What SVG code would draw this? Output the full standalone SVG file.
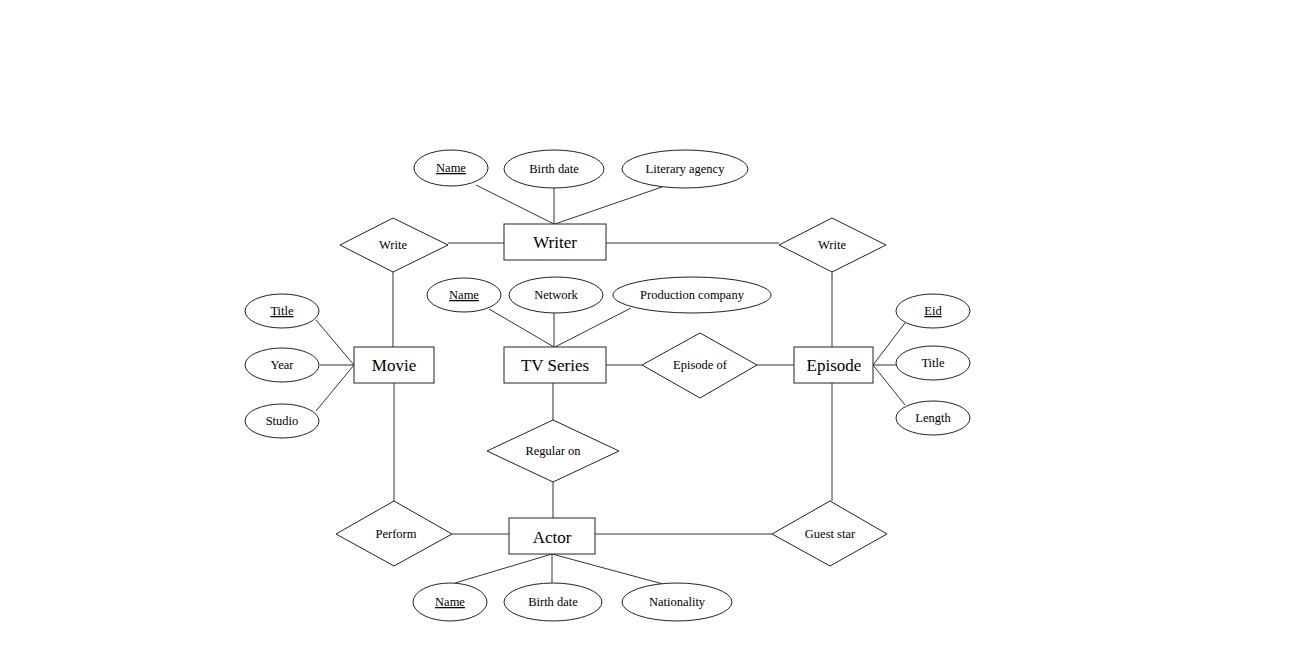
<svg xmlns="http://www.w3.org/2000/svg" width="1300" height="650" viewBox="0 0 1300 650">
<style>
.s{fill:#fff;stroke:#222;stroke-width:1}
.c line{stroke:#333;stroke-width:1}
.e{font-family:"Liberation Serif",serif;font-size:17px;text-anchor:middle;fill:#000}
.a{font-family:"Liberation Serif",serif;font-size:12.5px;text-anchor:middle;fill:#000}
.u{text-decoration:underline}
</style>
<rect width="1300" height="650" fill="#fff"/>
<g class="c">
<line x1="476" y1="185" x2="554" y2="224"/>
<line x1="554" y1="188" x2="554" y2="224"/>
<line x1="662" y1="187" x2="555" y2="224"/>
<line x1="448" y1="243" x2="504" y2="243"/>
<line x1="606" y1="243" x2="779" y2="243"/>
<line x1="393" y1="272" x2="393" y2="347"/>
<line x1="832" y1="272" x2="832" y2="347"/>
<line x1="316" y1="320" x2="354" y2="365"/>
<line x1="320" y1="365" x2="354" y2="365"/>
<line x1="316" y1="411" x2="354" y2="365"/>
<line x1="489" y1="309" x2="554" y2="347"/>
<line x1="554" y1="313" x2="554" y2="347"/>
<line x1="631" y1="308" x2="555" y2="347"/>
<line x1="606" y1="365" x2="642" y2="365"/>
<line x1="757" y1="365" x2="794" y2="365"/>
<line x1="873" y1="365" x2="905" y2="323"/>
<line x1="873" y1="365" x2="897" y2="365"/>
<line x1="873" y1="365" x2="905" y2="405"/>
<line x1="553" y1="383" x2="553" y2="420"/>
<line x1="553" y1="482" x2="553" y2="518"/>
<line x1="394" y1="383" x2="394" y2="501"/>
<line x1="832" y1="383" x2="832" y2="501"/>
<line x1="452" y1="534" x2="509" y2="534"/>
<line x1="595" y1="534" x2="772" y2="534"/>
<line x1="552" y1="554" x2="455" y2="583"/>
<line x1="552" y1="554" x2="552" y2="583"/>
<line x1="552" y1="554" x2="663" y2="584"/>
</g>
<g id="writer"><rect class="s" x="504" y="224" width="102" height="36"/><text class="e" x="555" y="248">Writer</text></g>
<g id="writer-name"><ellipse class="s" cx="451" cy="168" rx="37" ry="18"/><text class="a u" x="451" y="172">Name</text></g>
<g id="writer-birth"><ellipse class="s" cx="554" cy="169" rx="50" ry="19"/><text class="a" x="554" y="173">Birth date</text></g>
<g id="writer-agency"><ellipse class="s" cx="685" cy="169" rx="63" ry="19"/><text class="a" x="685" y="173" font-size="11.5">Literary agency</text></g>
<g id="write-left"><polygon class="s" points="340,245 393,218 448,245 393,272"/><text class="a" x="393" y="249">Write</text></g>
<g id="write-right"><polygon class="s" points="779,245 832,218 886,245 832,272"/><text class="a" x="832" y="249">Write</text></g>
<g id="movie"><rect class="s" x="354" y="347" width="80" height="36"/><text class="e" x="394" y="371">Movie</text></g>
<g id="movie-title"><ellipse class="s" cx="282" cy="311" rx="37" ry="17"/><text class="a u" x="282" y="315">Title</text></g>
<g id="movie-year"><ellipse class="s" cx="282" cy="365" rx="37" ry="17"/><text class="a" x="282" y="369">Year</text></g>
<g id="movie-studio"><ellipse class="s" cx="282" cy="421" rx="37" ry="17"/><text class="a" x="282" y="425">Studio</text></g>
<g id="tvseries"><rect class="s" x="504" y="347" width="102" height="36"/><text class="e" x="555" y="371">TV Series</text></g>
<g id="tv-name"><ellipse class="s" cx="464" cy="295" rx="37" ry="17"/><text class="a u" x="464" y="299">Name</text></g>
<g id="tv-network"><ellipse class="s" cx="556" cy="295" rx="47" ry="18"/><text class="a" x="556" y="299">Network</text></g>
<g id="tv-production"><ellipse class="s" cx="692" cy="295" rx="79" ry="18"/><text class="a" x="692" y="299" font-size="11.5">Production company</text></g>
<g id="episode-of"><polygon class="s" points="642,365 700,333 757,365 700,398"/><text class="a" x="700" y="369" font-size="11.5">Episode of</text></g>
<g id="episode"><rect class="s" x="794" y="347" width="79" height="36"/><text class="e" x="834" y="371">Episode</text></g>
<g id="ep-eid"><ellipse class="s" cx="933" cy="311" rx="37" ry="17"/><text class="a u" x="933" y="315">Eid</text></g>
<g id="ep-title"><ellipse class="s" cx="933" cy="363" rx="37" ry="17"/><text class="a" x="933" y="367">Title</text></g>
<g id="ep-length"><ellipse class="s" cx="933" cy="418" rx="37" ry="17"/><text class="a" x="933" y="422" font-size="11.5">Length</text></g>
<g id="regular-on"><polygon class="s" points="487,451 553,420 619,451 553,482"/><text class="a" x="553" y="455" font-size="11.5">Regular on</text></g>
<g id="perform"><polygon class="s" points="336,534 394,501 452,534 394,566"/><text class="a" x="396" y="538">Perform</text></g>
<g id="actor"><rect class="s" x="509" y="518" width="86" height="36"/><text class="e" x="552" y="543">Actor</text></g>
<g id="guest-star"><polygon class="s" points="772,534 830,501 887,534 830,566"/><text class="a" x="830" y="538" font-size="11.5">Guest star</text></g>
<g id="actor-name"><ellipse class="s" cx="450" cy="602" rx="37" ry="19"/><text class="a u" x="450" y="606">Name</text></g>
<g id="actor-birth"><ellipse class="s" cx="553" cy="602" rx="49" ry="19"/><text class="a" x="553" y="606">Birth date</text></g>
<g id="actor-nationality"><ellipse class="s" cx="677" cy="602" rx="55" ry="19"/><text class="a" x="677" y="606">Nationality</text></g>
</svg>
